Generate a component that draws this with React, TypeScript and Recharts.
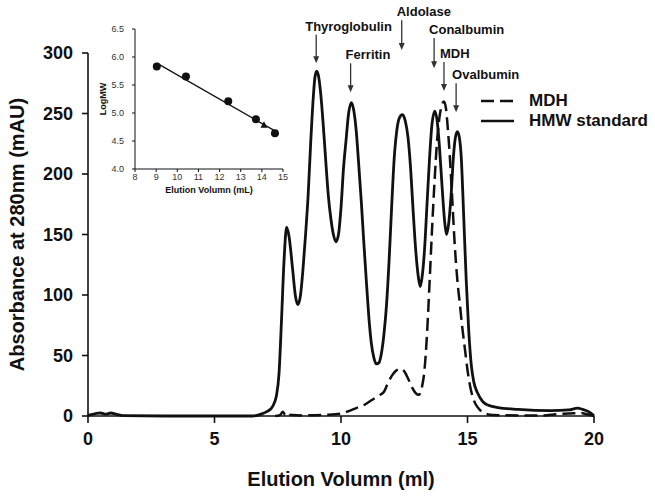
import React from "react"
import {
    LineChart,
    Line,
    XAxis,
    YAxis,
    ReferenceLine,
    Legend,
    ComposedChart,
    Scatter,
} from "recharts"

// HMW standard chromatogram (ml, mAU)
const hmwVolume = [
    0, 0.3, 0.5, 0.7, 0.9, 1.1, 1.4, 3, 6.5, 6.9, 7.1, 7.3, 7.45, 7.55, 7.65, 7.75, 7.85, 7.95, 8.08, 8.2,
    8.3, 8.4, 8.5, 8.6, 8.7, 8.8, 8.9, 8.97, 9.04, 9.12, 9.2, 9.3, 9.4, 9.5, 9.6, 9.7, 9.8, 9.9, 10.0, 10.1,
    10.2, 10.3, 10.41, 10.5, 10.6, 10.7, 10.8, 10.9, 11.0, 11.1, 11.2, 11.3, 11.4, 11.5, 11.6, 11.7, 11.8, 11.9, 12.0, 12.1,
    12.2, 12.3, 12.43, 12.55, 12.65, 12.75, 12.85, 12.95, 13.05, 13.13, 13.2, 13.3, 13.4, 13.5, 13.6, 13.71, 13.8, 13.9, 14.0, 14.1,
    14.17, 14.25, 14.35, 14.45, 14.52, 14.6, 14.68, 14.75, 14.85, 14.95, 15.05, 15.15, 15.25, 15.4, 15.6, 15.8, 16.2, 17, 18.3, 19.0,
    19.35, 19.55, 19.75, 19.9, 20,
]
const hmwAbsorbance = [
    0.5, 2, 2.5, 1.5, 2.5, 1.5, 0.3, 0, 0, 2, 4, 8, 17, 35, 80, 129, 156, 148, 123, 99,
    92, 100, 122, 150, 182, 225, 262, 280, 285, 280, 266, 240, 210, 182, 163, 150, 144, 150, 172, 205,
    228, 250, 259, 253, 236, 208, 178, 144, 112, 82, 60, 48, 43, 44, 52, 68, 92, 128, 172, 212,
    235, 246, 249, 243, 230, 205, 170, 138, 116, 107, 114, 137, 175, 213, 242, 252, 244, 220, 188, 160,
    150, 158, 182, 216, 230, 235, 230, 215, 165, 112, 70, 42, 28, 19, 12, 9, 7, 5.5, 4.5, 5,
    6.5, 5.5, 4, 2, 0,
]

// MDH chromatogram (ml, mAU)
const mdhVolume = [
    7.4, 7.6, 7.7, 7.8, 7.9, 8.0, 8.5, 9.5, 10.0, 10.3, 10.6, 10.9, 11.2, 11.5, 11.7, 11.85, 12.0, 12.15, 12.35, 12.5,
    12.65, 12.8, 12.95, 13.08, 13.2, 13.3, 13.4, 13.5, 13.6, 13.7, 13.8, 13.9, 14.0, 14.07, 14.15, 14.22, 14.3, 14.4, 14.5, 14.6,
    14.7, 14.8, 14.9, 15.0, 15.1, 15.25, 15.45, 15.7, 16.0, 17.0, 18.0, 18.5, 19.0, 19.5, 19.7, 19.9, 20,
]
const mdhAbsorbance = [
    0, 1, 3.5, 1, 3, 1, 0.5, 1, 2, 4, 6.5, 9, 13, 17, 20, 27, 33, 37, 39, 37,
    31, 24, 19, 17.5, 24, 38, 68, 110, 155, 195, 228, 248, 258, 260, 254, 238, 215, 178, 140, 112,
    92, 72, 55, 38, 25, 13, 6, 2, 0.8, 0.5, 0.5, 1.5, 2, 2.5, 1.5, 0.5, 0,
]

const xTicks = [0, 5, 10, 15, 20]
const yTicks = [0, 50, 100, 150, 200, 250, 300]

// peak annotations
const peakNames = ["Thyroglobulin", "Ferritin", "Aldolase", "Conalbumin", "MDH", "Ovalbumin"]
const peakVolume = [9.02, 10.38, 12.4, 13.68, 14.07, 14.55]
const arrowTip = [291.5, 267.5, 302.5, 287.5, 268.5, 251]
const arrowTail = [315, 291.5, 327, 312.5, 292.5, 275]

// inset calibration (elution ml, log MW)
const stdVolume = [9.03, 10.41, 12.41, 13.72, 14.62]
const stdLogMW = [5.83, 5.65, 5.21, 4.89, 4.64]
const mdhPoint = { x: 14.1, y: 4.79 }
const fitVolume = [9.03, 14.62]
const fitLogMW = [5.89, 4.68]
const insetXTicks = [8, 9, 10, 11, 12, 13, 14, 15]
const insetYTicks = [4, 4.5, 5, 5.5, 6, 6.5]

const hmwData = hmwVolume.map((ml, i) => ({ ml, abs: hmwAbsorbance[i] }))
const mdhData = mdhVolume.map((ml, i) => ({ ml, abs: mdhAbsorbance[i] }))
const stdData = stdVolume.map((x, i) => ({ x, y: stdLogMW[i] }))
const fitData = fitVolume.map((x, i) => ({ x, y: fitLogMW[i] }))

const labelShift: Record<string, number> = {
    Thyroglobulin: -11,
    Ferritin: -5,
    Aldolase: -5,
    Conalbumin: -5,
    MDH: -4,
    Ovalbumin: -4,
}

const ink = "#111"

function arrowShape(name: string) {
    return (props: any) => {
        const { x1, y1, x2, y2 } = props
        return (
            <g>
                <line x1={x1} y1={y1} x2={x2} y2={y2 - 6} stroke="#333" strokeWidth={1.3} />
                <polygon points={`${x2 - 3},${y2 - 7} ${x2 + 3},${y2 - 7} ${x2},${y2}`} fill="#333" />
                <text
                    x={x1 + labelShift[name]}
                    y={y1 - 4}
                    fontSize={13}
                    fontWeight="bold"
                    fill={ink}
                >
                    {name}
                </text>
            </g>
        )
    }
}

function renderLegend(props: any) {
    const items = [...(props.payload || [])].reverse()
    return (
        <div>
            {items.map((entry: any) => (
                <div key={entry.value} style={{ display: "flex", alignItems: "center", height: 20 }}>
                    <svg width={33} height={20}>
                        <line
                            x1={0}
                            x2={33}
                            y1={10}
                            y2={10}
                            stroke={ink}
                            strokeWidth={2.6}
                            strokeDasharray={entry.payload?.strokeDasharray}
                        />
                    </svg>
                    <span style={{ marginLeft: 15, fontSize: 17, fontWeight: "bold", color: ink }}>
                        {entry.value}
                    </span>
                </div>
            ))}
        </div>
    )
}

const dot = (props: any) => <circle cx={props.cx} cy={props.cy} r={4} fill={ink} />
const tri = (props: any) => (
    <polygon
        points={`${props.cx - 3.5},${props.cy + 3} ${props.cx + 3.5},${props.cy + 3} ${props.cx},${props.cy - 3.5}`}
        fill={ink}
    />
)

function Inset() {
    return (
        <div style={{ position: "absolute", left: 90, top: 20 }}>
            <ComposedChart width={200} height={185} margin={{ top: 9, right: 7, bottom: 0, left: 0 }}>
                <XAxis
                    type="number"
                    dataKey="x"
                    domain={[8, 15]}
                    ticks={insetXTicks}
                    height={36}
                    tickSize={3}
                    tickMargin={2}
                    stroke={ink}
                    tick={{ fontSize: 9, fill: "#333" }}
                    label={{
                        value: "Elution Volumn (mL)",
                        position: "insideBottom",
                        offset: 12,
                        style: { fontSize: 9, fontWeight: "bold", fill: ink },
                    }}
                />
                <YAxis
                    type="number"
                    dataKey="y"
                    domain={[4, 6.5]}
                    ticks={insetYTicks}
                    width={45}
                    tickSize={3}
                    tickMargin={8}
                    stroke={ink}
                    tickFormatter={(v: number) => v.toFixed(1)}
                    tick={{ fontSize: 9, fill: "#333" }}
                    label={{
                        value: "LogMW",
                        angle: -90,
                        position: "insideLeft",
                        offset: 13,
                        style: { fontSize: 9, fontWeight: "bold", fill: ink, textAnchor: "middle" },
                    }}
                />
                <Line
                    data={fitData}
                    dataKey="y"
                    type="linear"
                    stroke={ink}
                    strokeWidth={1.3}
                    dot={false}
                    isAnimationActive={false}
                />
                <Scatter data={stdData} shape={dot} isAnimationActive={false} />
                <Scatter data={[mdhPoint]} shape={tri} isAnimationActive={false} />
            </ComposedChart>
        </div>
    )
}

export default function App() {
    return (
        <div
            style={{
                position: "absolute",
                left: 0,
                top: 0,
                width: 655,
                height: 496,
                background: "#fff",
                fontFamily: "'Liberation Sans', Arial, sans-serif",
            }}
        >
            <LineChart width={655} height={496} margin={{ top: 53, right: 61, bottom: 0, left: 0 }}>
                <XAxis
                    type="number"
                    dataKey="ml"
                    domain={[0, 20]}
                    ticks={xTicks}
                    height={80}
                    tickSize={7}
                    tickMargin={9}
                    stroke={ink}
                    strokeWidth={1.6}
                    tick={{ fontSize: 18, fontWeight: "bold", fill: ink }}
                    label={{
                        value: "Elution Volumn (ml)",
                        position: "insideBottom",
                        offset: 10,
                        style: { fontSize: 20, fontWeight: "bold", fill: ink },
                    }}
                />
                <YAxis
                    type="number"
                    domain={[0, 300]}
                    ticks={yTicks}
                    width={88}
                    tickSize={6}
                    tickMargin={9}
                    stroke={ink}
                    strokeWidth={1.6}
                    tick={{ fontSize: 18, fontWeight: "bold", fill: ink }}
                    label={{
                        value: "Absorbance at 280nm (mAU)",
                        angle: -90,
                        position: "insideLeft",
                        offset: 17,
                        style: { fontSize: 20, fontWeight: "bold", fill: ink, textAnchor: "middle" },
                    }}
                />
                <Legend
                    content={renderLegend}
                    layout="horizontal"
                    verticalAlign="middle"
                    align="center"
                    wrapperStyle={{ left: 481, top: 90.5, width: 170 }}
                />
                <Line
                    name="HMW standard"
                    data={hmwData}
                    dataKey="abs"
                    type="monotone"
                    stroke={ink}
                    strokeWidth={2.8}
                    dot={false}
                    isAnimationActive={false}
                />
                <Line
                    name="MDH"
                    data={mdhData}
                    dataKey="abs"
                    type="monotone"
                    stroke={ink}
                    strokeWidth={2.5}
                    strokeDasharray="13 6"
                    dot={false}
                    isAnimationActive={false}
                />
                {peakNames.map((name, i) => (
                    <ReferenceLine
                        key={name}
                        ifOverflow="visible"
                        segment={[
                            { x: peakVolume[i], y: arrowTail[i] },
                            { x: peakVolume[i], y: arrowTip[i] },
                        ]}
                        shape={arrowShape(name)}
                    />
                ))}
            </LineChart>
            <Inset />
        </div>
    )
}
